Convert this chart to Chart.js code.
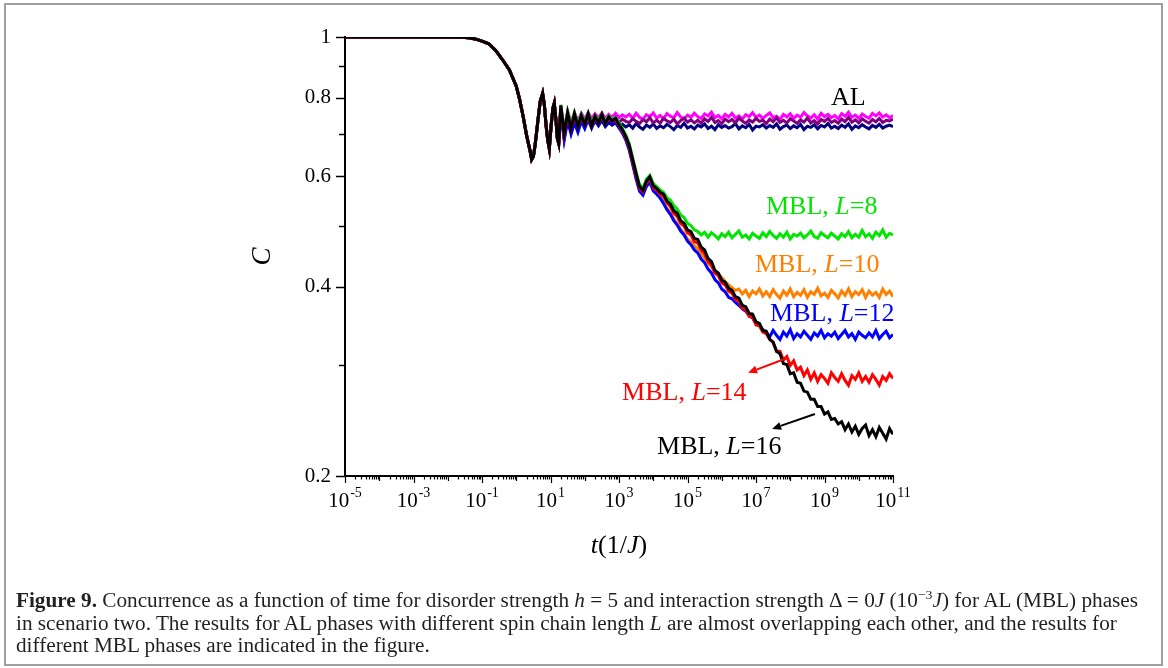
<!DOCTYPE html>
<html><head><meta charset="utf-8">
<script src="https://cdn.jsdelivr.net/npm/chart.js@4.4.1/dist/chart.umd.min.js"></script>
<style>
html,body{margin:0;padding:0;background:#fff;}
#wrap{position:absolute;left:0;top:0;width:1168px;height:668px;}
#frame{position:absolute;left:4px;top:3px;width:1155px;height:659px;border:2px solid #a0a0a0;}
#cap{position:absolute;left:16px;top:589px;font-family:"Liberation Serif",serif;font-size:20px;line-height:22.5px;white-space:nowrap;color:#231f20;}
#cap span{display:block;transform-origin:0 0;}
</style></head>
<body>
<div id="wrap"><canvas id="c" width="1168" height="668"></canvas></div>
<div id="frame"></div>
<div id="cap"><span id="l1"><b>Figure 9.</b> Concurrence as a function of time for disorder strength <i>h</i> = 5 and interaction strength Δ = 0<i>J</i> (10<sup style="font-size:13px;line-height:0">−3</sup><i>J</i>) for AL (MBL) phases</span><span id="l2">in scenario two. The results for AL phases with different spin chain length <i>L</i> are almost overlapping each other, and the results for</span><span id="l3">different MBL phases are indicated in the figure.</span></div>
<script>
// ---- time grid: log10(t) ----
const logTEarly = [-5,-3,-1.6,-1.4,-1.2,-1.0,-0.8,-0.6,-0.4,-0.2,0,0.1,0.2,0.3,0.4,0.45,0.5,0.55,0.6,0.65,0.7,0.77,0.82,0.87,0.92,0.965,1.02,1.07,1.11,1.16,1.2,1.24];
const logTLate = [
1.3,1.4,1.5,1.6,1.7,1.8,1.9,2.0,2.1,2.2,
2.3,2.4,2.5,2.6,2.7,2.8,2.9,3.0,3.1,3.2,
3.3,3.4,3.5,3.6,3.7,3.8,3.9,4.0,4.1,4.2,
4.3,4.4,4.5,4.6,4.7,4.8,4.9,5.0,5.1,5.2,
5.3,5.4,5.5,5.6,5.7,5.8,5.9,6.0,6.1,6.2,
6.3,6.4,6.5,6.6,6.7,6.8,6.9,7.0,7.1,7.2,
7.3,7.4,7.5,7.6,7.7,7.8,7.9,8.0,8.1,8.2,
8.3,8.4,8.5,8.6,8.7,8.8,8.9,9.0,9.1,9.2,
9.3,9.4,9.5,9.6,9.7,9.8,9.9,10.0,10.1,10.2,
10.3,10.4,10.5,10.6,10.7,10.8,10.9,11.0];

// ---- concurrence, common early part ----
const cEarly = [1,1,0.999,0.997,0.993,0.985,0.975,0.952,0.92,0.886,0.835,0.795,0.748,0.698,0.66,0.638,0.645,0.673,0.71,0.75,0.79,0.813,0.78,0.724,0.685,0.664,0.724,0.77,0.784,0.737,0.69,0.677];

// ---- MBL series (late part) ----
const cMBL16 = [
0.778,0.702,0.757,0.715,0.755,0.720,0.750,0.727,0.755,0.722,
0.748,0.730,0.753,0.728,0.746,0.735,0.742,0.725,0.712,0.694,
0.672,0.638,0.606,0.578,0.570,0.590,0.599,0.580,0.574,0.566,
0.562,0.548,0.542,0.529,0.524,0.510,0.505,0.493,0.490,0.478,
0.476,0.463,0.458,0.444,0.439,0.425,0.421,0.410,0.407,0.398,
0.395,0.386,0.384,0.374,0.372,0.363,0.362,0.352,0.350,0.341,
0.340,0.330,0.327,0.316,0.313,0.302,0.301,0.291,0.292,0.282,
0.281,0.273,0.272,0.265,0.265,0.258,0.258,0.251,0.253,0.246,
0.247,0.242,0.244,0.237,0.242,0.235,0.240,0.233,0.238,0.241,
0.232,0.237,0.231,0.239,0.234,0.229,0.238,0.233];
const cMBL14 = [
0.770,0.698,0.752,0.715,0.748,0.720,0.745,0.726,0.748,0.722,
0.744,0.730,0.747,0.729,0.742,0.734,0.738,0.724,0.709,0.691,
0.668,0.634,0.602,0.575,0.567,0.586,0.595,0.576,0.570,0.562,
0.557,0.545,0.537,0.524,0.518,0.505,0.500,0.488,0.484,0.472,
0.470,0.458,0.452,0.439,0.434,0.421,0.417,0.406,0.403,0.394,
0.391,0.382,0.380,0.370,0.368,0.359,0.358,0.348,0.347,0.339,
0.337,0.330,0.326,0.316,0.316,0.306,0.310,0.300,0.305,0.295,
0.298,0.289,0.295,0.285,0.292,0.283,0.290,0.286,0.281,0.292,
0.287,0.283,0.291,0.284,0.279,0.289,0.285,0.292,0.283,0.288,
0.282,0.290,0.285,0.279,0.288,0.284,0.291,0.286];
const cMBL12 = [
0.760,0.685,0.735,0.700,0.730,0.705,0.735,0.715,0.740,0.716,
0.738,0.725,0.742,0.724,0.737,0.729,0.733,0.718,0.703,0.685,
0.660,0.626,0.594,0.568,0.560,0.578,0.587,0.569,0.562,0.554,
0.543,0.531,0.522,0.510,0.502,0.491,0.484,0.473,0.467,0.458,
0.453,0.443,0.437,0.427,0.421,0.411,0.406,0.397,0.393,0.385,
0.383,0.378,0.374,0.369,0.366,0.360,0.357,0.350,0.347,0.342,
0.339,0.333,0.341,0.335,0.330,0.339,0.334,0.342,0.331,0.337,
0.333,0.340,0.335,0.330,0.338,0.334,0.341,0.332,0.337,0.334,
0.339,0.331,0.336,0.341,0.333,0.337,0.330,0.339,0.335,0.332,
0.338,0.333,0.341,0.331,0.336,0.340,0.332,0.336];
const cMBL10 = [
0.768,0.695,0.748,0.712,0.745,0.718,0.742,0.724,0.746,0.720,
0.742,0.728,0.745,0.727,0.740,0.732,0.736,0.721,0.706,0.688,
0.664,0.630,0.598,0.572,0.563,0.582,0.590,0.572,0.565,0.557,
0.546,0.534,0.525,0.513,0.505,0.494,0.487,0.477,0.472,0.465,
0.460,0.451,0.445,0.436,0.431,0.423,0.419,0.414,0.408,0.403,
0.399,0.395,0.397,0.390,0.395,0.386,0.394,0.390,0.397,0.387,
0.393,0.386,0.396,0.389,0.384,0.394,0.388,0.397,0.386,0.392,
0.388,0.396,0.385,0.393,0.389,0.398,0.387,0.391,0.385,0.395,
0.390,0.384,0.394,0.388,0.397,0.386,0.393,0.389,0.396,0.385,
0.394,0.388,0.392,0.385,0.397,0.389,0.394,0.386];
const cMBL8 = [
0.780,0.705,0.760,0.725,0.758,0.727,0.752,0.732,0.756,0.728,
0.750,0.735,0.754,0.733,0.748,0.739,0.744,0.730,0.716,0.698,
0.676,0.642,0.610,0.582,0.575,0.594,0.602,0.585,0.578,0.571,
0.566,0.555,0.550,0.539,0.532,0.521,0.516,0.505,0.501,0.493,
0.490,0.484,0.489,0.480,0.488,0.483,0.477,0.486,0.481,0.489,
0.479,0.485,0.491,0.480,0.484,0.477,0.487,0.482,0.478,0.488,
0.481,0.490,0.483,0.478,0.486,0.480,0.489,0.477,0.485,0.482,
0.487,0.479,0.484,0.491,0.481,0.478,0.488,0.483,0.479,0.487,
0.482,0.477,0.486,0.481,0.490,0.479,0.485,0.480,0.492,0.481,
0.486,0.478,0.489,0.483,0.493,0.480,0.487,0.484];

// ---- AL series (late part) ----
const cALmagenta = [
0.778,0.712,0.762,0.730,0.758,0.735,0.756,0.740,0.758,0.742,
0.755,0.744,0.757,0.742,0.753,0.745,0.756,0.744,0.752,0.746,
0.753,0.742,0.756,0.745,0.739,0.752,0.747,0.757,0.743,0.750,
0.741,0.755,0.748,0.744,0.758,0.746,0.740,0.751,0.745,0.756,
0.747,0.742,0.754,0.749,0.759,0.744,0.750,0.741,0.753,0.746,
0.756,0.743,0.749,0.740,0.752,0.747,0.758,0.745,0.751,0.742,
0.750,0.757,0.744,0.748,0.739,0.753,0.746,0.755,0.742,0.751,
0.745,0.758,0.749,0.743,0.752,0.740,0.756,0.747,0.753,0.744,
0.750,0.741,0.755,0.748,0.759,0.745,0.751,0.742,0.754,0.747,
0.743,0.756,0.749,0.757,0.746,0.752,0.744,0.750];
const cALpurple = [
0.772,0.706,0.756,0.724,0.752,0.729,0.749,0.733,0.750,0.735,
0.745,0.733,0.747,0.732,0.742,0.735,0.744,0.731,0.740,0.734,
0.731,0.741,0.734,0.728,0.739,0.733,0.744,0.730,0.737,0.729,
0.742,0.735,0.731,0.740,0.727,0.736,0.743,0.732,0.738,0.730,
0.737,0.729,0.741,0.734,0.745,0.731,0.736,0.728,0.740,0.733,
0.739,0.730,0.743,0.735,0.729,0.738,0.732,0.742,0.734,0.737,
0.728,0.740,0.733,0.744,0.731,0.737,0.730,0.741,0.735,0.729,
0.738,0.732,0.743,0.730,0.736,0.727,0.739,0.734,0.742,0.731,
0.736,0.729,0.740,0.733,0.745,0.732,0.738,0.730,0.741,0.734,
0.729,0.739,0.733,0.742,0.731,0.737,0.735,0.740];
const cALnavy = [
0.765,0.690,0.742,0.708,0.738,0.712,0.737,0.718,0.740,0.719,
0.735,0.722,0.737,0.720,0.731,0.724,0.730,0.717,0.726,0.719,
0.725,0.716,0.728,0.719,0.713,0.724,0.718,0.727,0.715,0.722,
0.717,0.726,0.720,0.712,0.723,0.718,0.729,0.716,0.721,0.714,
0.724,0.719,0.727,0.715,0.721,0.712,0.725,0.718,0.723,0.716,
0.720,0.728,0.714,0.722,0.717,0.726,0.711,0.721,0.719,0.725,
0.716,0.723,0.718,0.727,0.713,0.720,0.724,0.715,0.722,0.717,
0.726,0.712,0.721,0.718,0.725,0.714,0.723,0.719,0.728,0.716,
0.721,0.715,0.724,0.718,0.727,0.713,0.722,0.717,0.725,0.719,
0.714,0.723,0.718,0.726,0.716,0.721,0.724,0.720];

// ---- ticks / labels ----
const yTickValues = [0.2,0.4,0.6,0.8,1];
const yTickLabels = ['0.2','0.4','0.6','0.8','1'];
const yMinorValues = [0.3,0.5,0.7,0.9];
const xTickExps = [-5,-3,-1,1,3,5,7,9,11];
const xTickExpText = ['-5','-3','-1','1','3','5','7','9','11'];

// ---- annotation labels (data coords: log10 t, C) ----
const labels = [
  {parts:[['AL','']], e:9.19, c:0.80, color:'#000000'},
  {parts:[['MBL, ',''],['L','italic '],['=8','']], e:7.29, c:0.5355, color:'#00e600'},
  {parts:[['MBL, ',''],['L','italic '],['=10','']], e:6.97, c:0.4326, color:'#ff8000'},
  {parts:[['MBL, ',''],['L','italic '],['=12','']], e:7.41, c:0.3626, color:'#0000ff'},
  {parts:[['MBL, ',''],['L','italic '],['=14','']], e:3.09, c:0.2714, color:'#ff0000'},
  {parts:[['MBL, ',''],['L','italic '],['=16','']], e:4.11, c:0.2225, color:'#000000'}
];
const arrows = [
  {from:[7.93,0.3086], to:[6.77,0.292], color:'#ff0000'},
  {from:[8.72,0.2511], to:[7.47,0.2377], color:'#000000'}
];

const allT = logTEarly.concat(logTLate);
function mk(late){ return allT.map((e,i)=>({x:Math.pow(10,e), y:(i<cEarly.length?cEarly[i]:late[i-cEarly.length])})); }

const series = [
  {d:cMBL16,c:'#000000'},
  {d:cMBL14,c:'#ff0000'},
  {d:cMBL12,c:'#0000ff'},
  {d:cMBL10,c:'#ff8000'},
  {d:cMBL8,c:'#00e600'},
  {d:cALpurple,c:'#800080'},
  {d:cALmagenta,c:'#ff00ff'},
  {d:cALnavy,c:'#000080'}
];

const FONT = '"Liberation Serif", "Times New Roman", serif';

const overlay = {
  id:'overlay',
  afterDraw(chart){
    const ctx=chart.ctx, xs=chart.scales.x, ys=chart.scales.y, a=chart.chartArea;
    ctx.save();
    ctx.strokeStyle='#000'; ctx.lineWidth=1.5;
    const L=(x1,y1,x2,y2)=>{ctx.beginPath();ctx.moveTo(x1,y1);ctx.lineTo(x2,y2);ctx.stroke();};
    yTickValues.forEach(v=>{const p=Math.round(ys.getPixelForValue(v))+0.5; L(a.left-9,p,a.left,p);});
    yMinorValues.forEach(v=>{const p=Math.round(ys.getPixelForValue(v))+0.5; L(a.left-6,p,a.left,p);});
    ctx.lineWidth=1.2;
    for(let e=-5;e<=11;e++){
      const p=Math.round(xs.getPixelForValue(Math.pow(10,e)))+0.5;
      const len = (Math.abs(e)%2===1)?7:5;
      L(p,a.bottom,p,a.bottom+len);
      if(e<11){ for(let k=2;k<=9;k++){ const q=Math.round(xs.getPixelForValue(k*Math.pow(10,e)))+0.5; L(q,a.bottom,q,a.bottom+3.5);} }
    }
    // x tick labels 10^n
    ctx.fillStyle='#000'; ctx.textBaseline='alphabetic'; ctx.textAlign='left';
    xTickExps.forEach((e,i)=>{
      const p=xs.getPixelForValue(Math.pow(10,e));
      ctx.font='21px '+FONT; const wb=ctx.measureText('10').width;
      ctx.font='14px '+FONT; const we=ctx.measureText(xTickExpText[i]).width;
      const x0=p-(wb+we+1)/2;
      ctx.font='21px '+FONT; ctx.fillText('10',x0,a.bottom+31);
      ctx.font='14px '+FONT; ctx.fillText(xTickExpText[i],x0+wb+1,a.bottom+21);
    });
    // x axis title t(1/J)
    const tparts=[['t','italic '],['(1/',''],['J','italic '],[')','']];
    drawParts(ctx,tparts,'26px '+FONT,'#000',(a.left+a.right)/2,546,true);
    // labels
    labels.forEach(l=>{
      drawParts(ctx,l.parts,'26px '+FONT,l.color,xs.getPixelForValue(Math.pow(10,l.e)),ys.getPixelForValue(l.c),false);
    });
    arrows.forEach(ar=>{
      const x1=xs.getPixelForValue(Math.pow(10,ar.from[0])), y1=ys.getPixelForValue(ar.from[1]);
      const x2=xs.getPixelForValue(Math.pow(10,ar.to[0])), y2=ys.getPixelForValue(ar.to[1]);
      ctx.strokeStyle=ar.color; ctx.fillStyle=ar.color; ctx.lineWidth=2;
      const ang=Math.atan2(y2-y1,x2-x1), hl=9, hw=4;
      const bx=x2-hl*Math.cos(ang), by=y2-hl*Math.sin(ang);
      L(x1,y1,bx,by);
      ctx.beginPath(); ctx.moveTo(x2,y2);
      ctx.lineTo(bx+hw*Math.sin(ang), by-hw*Math.cos(ang));
      ctx.lineTo(bx-hw*Math.sin(ang), by+hw*Math.cos(ang));
      ctx.closePath(); ctx.fill();
    });
    ctx.restore();
  }
};
function drawParts(ctx,parts,font,color,x,y,center){
  ctx.fillStyle=color; ctx.textBaseline='middle'; ctx.textAlign='left';
  let w=0; parts.forEach(p=>{ctx.font=p[1]+font; w+=ctx.measureText(p[0]).width;});
  let cx = center? x-w/2 : x;
  parts.forEach(p=>{ctx.font=p[1]+font; ctx.fillText(p[0],cx,y); cx+=ctx.measureText(p[0]).width;});
}

new Chart(document.getElementById('c'),{
  type:'line',
  data:{datasets: series.map(s=>({data:mk(s.d), borderColor:s.c, backgroundColor:s.c, borderWidth:3, pointRadius:0, tension:0, fill:false}))},
  options:{
    responsive:false, animation:false,
    layout:{padding:{left:245,right:275,top:37,bottom:132}},
    plugins:{legend:{display:false}, tooltip:{enabled:false}},
    scales:{
      x:{type:'logarithmic', min:1e-5, max:1e11,
         afterBuildTicks:s=>{s.ticks = xTickExps.map(e=>({value:Math.pow(10,e)}));},
         afterFit:s=>{s.height=60;},
         ticks:{display:false},
         grid:{display:false, drawTicks:false},
         border:{display:true, color:'#000', width:2}
      },
      y:{type:'logarithmic', min:0.2, max:1,
         afterBuildTicks:s=>{s.ticks = yTickValues.map(v=>({value:v}));},
         afterFit:s=>{s.width=100;},
         ticks:{callback:(v,i)=>yTickLabels[i], autoSkip:false, padding:14, color:'#000', font:{family:FONT, size:21}},
         grid:{display:false, drawTicks:false},
         border:{display:true, color:'#000', width:2},
         title:{display:true, text:'C', color:'#000', padding:{top:2,bottom:0}, font:{family:FONT, size:27, style:'italic'}}
      }
    }
  },
  plugins:[overlay]
});

// fit caption width to the reference text block
(function(){
  const l1=document.getElementById('l1');
  const w=l1.getBoundingClientRect().width;
  const s=1122/w;
  ['l1','l2','l3'].forEach(id=>{document.getElementById(id).style.transform='scaleX('+s+')';});
})();
</script>
</body></html>
